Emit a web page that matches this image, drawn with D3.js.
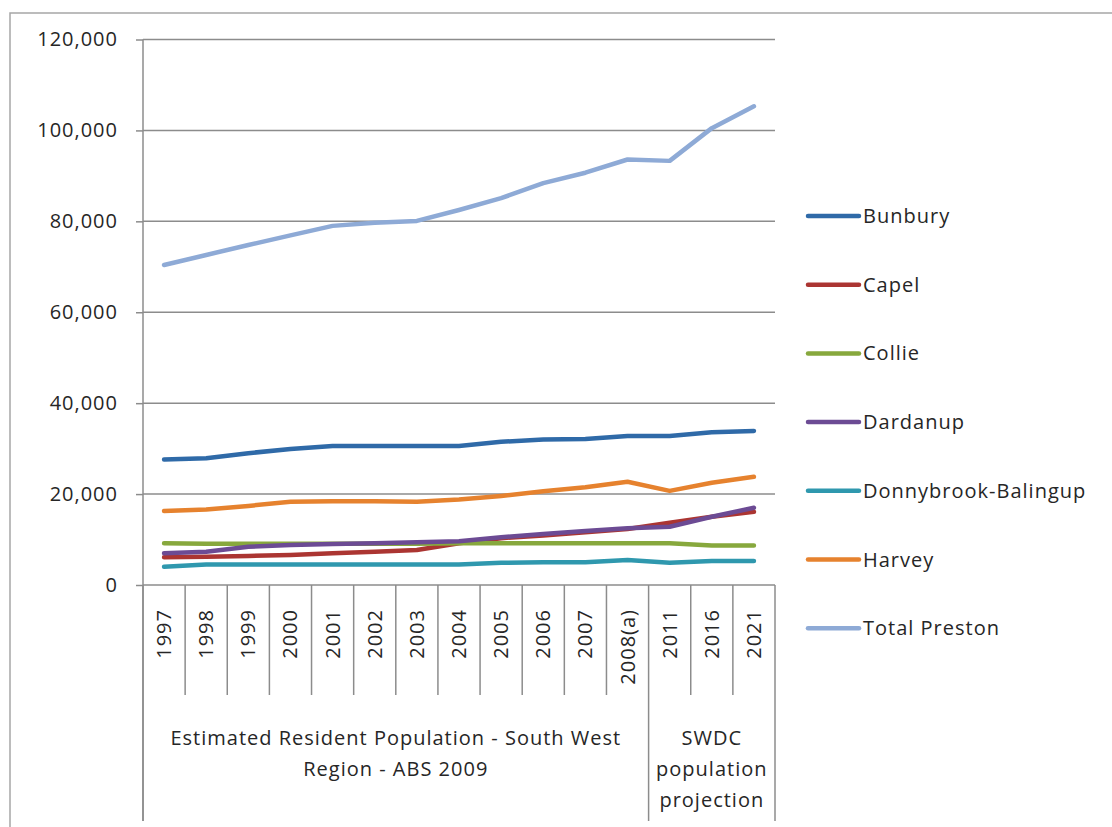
<!DOCTYPE html>
<html>
<head>
<meta charset="utf-8">
<script src="https://cdn.jsdelivr.net/npm/d3@7"></script>
<style>
  body { margin: 0; background: #fff; }
  text { font-family: "Open Sans", sans-serif; fill: #262626; letter-spacing: 1px; }
</style>
</head>
<body>
<script>
// categories and group labels
var years = ["1997","1998","1999","2000","2001","2002","2003","2004","2005","2006","2007","2008(a)","2011","2016","2021"];
var groupNames = [["Estimated  Resident Population - South West", "Region - ABS 2009"], ["SWDC", "population", "projection"]];
var groupStarts = [0, 12];
var groupEnds = [12, 15];

// series values
var seriesNames = ["Bunbury","Capel","Collie","Dardanup","Donnybrook-Balingup","Harvey","Total Preston"];
var bunbury    = [27600,27900,29000,29900,30600,30600,30600,30600,31500,32000,32100,32800,32800,33600,33900];
var capel      = [6100,6200,6400,6600,7000,7300,7700,9200,10300,10900,11600,12300,13700,15000,16100];
var collie     = [9200,9100,9100,9100,9100,9100,9100,9200,9200,9200,9200,9200,9200,8700,8700];
var dardanup   = [7000,7300,8400,8800,9000,9200,9400,9600,10500,11200,11900,12500,12800,15000,17000];
var donnybrook = [4000,4500,4500,4500,4500,4500,4500,4500,4900,5000,5000,5500,4900,5300,5300];
var harvey     = [16300,16600,17400,18300,18400,18400,18300,18800,19600,20600,21500,22700,20700,22500,23800];
var preston    = [70400,72600,74800,76900,79000,79700,80100,82500,85100,88400,90700,93600,93300,100500,105300];
var yTicks = [0,20000,40000,60000,80000,100000,120000];

var allSeries = [bunbury, capel, collie, dardanup, donnybrook, harvey, preston];
var colors = ["#2f6aa8","#ab3532","#87a83d","#6c4b94","#2f98ae","#e6822e","#8eaad6"];

var W = 1112, H = 827;
var svg = d3.select("body").append("svg").attr("width", W).attr("height", H);

//outer frame
svg.append("rect").attr("x", 10).attr("y", 13).attr("width", W + 20).attr("height", H + 20)
  .attr("fill", "none").attr("stroke", "#a6a6a6").attr("stroke-width", 1.5);

var x = d3.scaleBand().domain(years).range([143, 775]).padding(0);
var y = d3.scaleLinear().domain([0, 120000]).range([585, 39.5]);

//gridlines
svg.append("g").selectAll("line").data(yTicks.slice(1)).enter().append("line")
  .attr("x1", 143).attr("x2", 775)
  .attr("y1", function(d){ return y(d); }).attr("y2", function(d){ return y(d); })
  .attr("stroke", "#8c8c8c").attr("stroke-width", 1.5);

//y axis
var yAxis = d3.axisLeft(y).tickValues(yTicks).tickFormat(d3.format(",")).tickSize(7).tickPadding(18);
var yg = svg.append("g").attr("transform", "translate(143,0)").call(yAxis);
yg.select(".domain").attr("stroke", "#8c8c8c").attr("stroke-width", 1.5).attr("d", "M0,39.5V821");
yg.selectAll(".tick line").attr("stroke", "#8c8c8c").attr("stroke-width", 1.5);
yg.selectAll(".tick text").style("font-size", "20px").style("fill", "#262626")
  .style("font-family", "'Open Sans', sans-serif");

//x axis line
svg.append("line").attr("x1", 143).attr("x2", 775).attr("y1", y(0)).attr("y2", y(0))
  .attr("stroke", "#8c8c8c").attr("stroke-width", 1.5);

//category separators
var edges = years.map(function(d){ return x(d); }).concat([x.range()[1]]);
svg.append("g").selectAll("line").data(edges).enter().append("line")
  .attr("x1", function(d){ return d; }).attr("x2", function(d){ return d; })
  .attr("y1", y(0))
  .attr("y2", function(d, i){ return (i === 0 || groupStarts.indexOf(i) >= 0 || i === years.length) ? 821 : 695; })
  .attr("stroke", "#8c8c8c").attr("stroke-width", 1.5);

//year labels (rotated)
svg.append("g").selectAll("text").data(years).enter().append("text")
  .attr("transform", function(d){ return "translate(" + (x(d) + x.bandwidth() / 2 + 7) + ",609) rotate(-90)"; })
  .attr("text-anchor", "end")
  .style("font-size", "20px")
  .text(function(d){ return d; });

//group labels
groupNames.forEach(function(lines, gi){
  var cx = (edges[groupStarts[gi]] + edges[groupEnds[gi]]) / 2;
  svg.append("g").selectAll("text").data(lines).enter().append("text")
    .attr("x", cx).attr("y", function(d, i){ return 745 + i * 31; })
    .attr("text-anchor", "middle")
    .style("font-size", "20px")
    .text(function(d){ return d; });
});

//lines
var line = d3.line()
  .x(function(d, i){ return x(years[i]) + x.bandwidth() / 2; })
  .y(function(d){ return y(d); });

svg.append("g").selectAll("path").data(allSeries).enter().append("path")
  .attr("d", line)
  .attr("fill", "none")
  .attr("stroke", function(d, i){ return colors[i]; })
  .attr("stroke-width", 4.5)
  .attr("stroke-linejoin", "round")
  .attr("stroke-linecap", "round");

//legend
var lg = svg.append("g").selectAll("g").data(seriesNames).enter().append("g")
  .attr("transform", function(d, i){ return "translate(0," + (216 + i * 68.7) + ")"; });
lg.append("line").attr("x1", 808).attr("x2", 859).attr("y1", 0).attr("y2", 0)
  .attr("stroke", function(d, i){ return colors[i]; })
  .attr("stroke-width", 4.5).attr("stroke-linecap", "round");
lg.append("text").attr("x", 863).attr("y", 7)
  .style("font-size", "20px")
  .text(function(d){ return d; });
</script>
</body>
</html>
